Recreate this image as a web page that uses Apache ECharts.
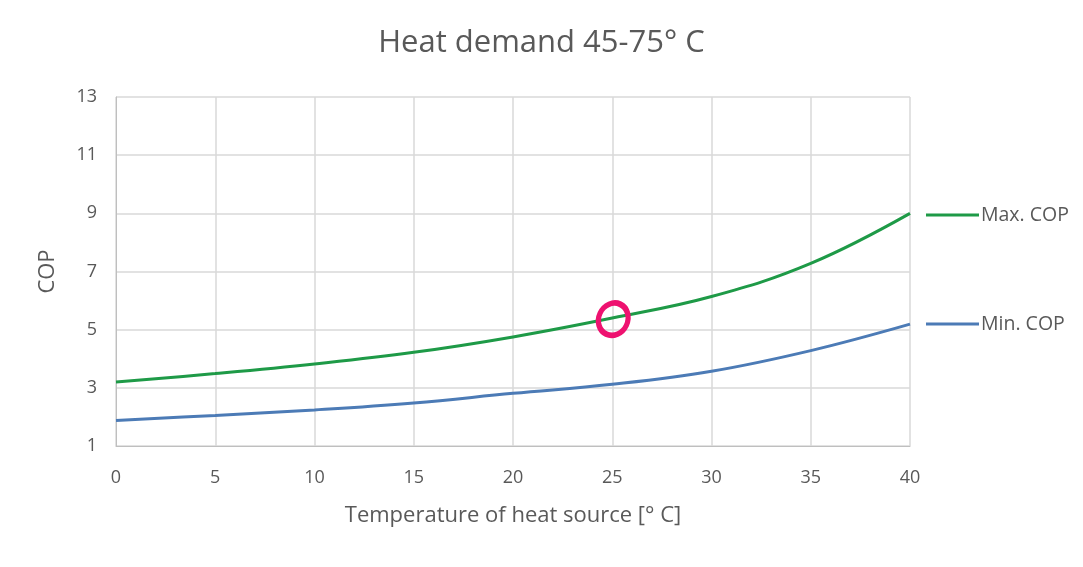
<!DOCTYPE html>
<html>
<head>
<meta charset="utf-8">
<script src="https://cdn.jsdelivr.net/npm/echarts@6/dist/echarts.min.js"></script>
<style>
  html, body { margin: 0; padding: 0; background: #fff; }
  #chart { width: 1083px; height: 567px; }
</style>
</head>
<body>
<div id="chart"></div>
<script>
// source temperature [°C]
const temps = [0, 5, 10, 15, 20, 25, 30, 35, 40]
// COP
const maxCop = [3.20, 3.49, 3.82, 4.22, 4.75, 5.40, 6.14, 7.28, 9.00]
const minCop = [1.88, 2.05, 2.24, 2.48, 2.81, 3.12, 3.57, 4.28, 5.19]
// the pink hand-drawn mark sits on the max curve at 25 °C
const circled = [25.05, 5.36]

const txt = '#595959'
const font = 'Open Sans'

const myChart = echarts.init(document.getElementById('chart'))
const pairs = (ys) => temps.map((t, i) => [t, ys[i]])

const legendBox = (name, top) => ({
  data: [name],
  left: 921,
  top: top,
  icon: 'rect',
  itemWidth: 53,
  itemHeight: 3,
  itemGap: 4,
  textStyle: { color: txt, fontFamily: font, fontSize: 19.5, padding: [0, 0, 0, -3] }
})

const option = {
  animation: false,
  title: {
    text: 'Heat demand 45-75° C',
    left: 'center',
    top: 23,
    textStyle: { color: txt, fontFamily: font, fontWeight: 'normal', fontSize: 31 }
  },
  legend: [legendBox('Max. COP', 200), legendBox('Min. COP', 309)],
  grid: { left: 116, right: 173, top: 97, bottom: 121 },
  xAxis: {
    type: 'value',
    min: 0,
    max: 40,
    interval: 5,
    name: 'Temperature of heat source [° C]',
    nameLocation: 'middle',
    nameGap: 59,
    nameTextStyle: { color: txt, fontFamily: font, fontSize: 22 },
    axisLine: { lineStyle: { color: '#bfbfbf', width: 1 } },
    axisTick: { show: false },
    axisLabel: { color: txt, fontFamily: font, fontSize: 18, margin: 23 },
    splitLine: { show: true, lineStyle: { color: '#d9d9d9', width: 1.5 } }
  },
  yAxis: {
    type: 'value',
    min: 1,
    max: 13,
    interval: 2,
    name: 'COP',
    nameLocation: 'middle',
    nameGap: 57,
    nameTextStyle: { color: txt, fontFamily: font, fontSize: 22 },
    axisLine: { show: true, lineStyle: { color: '#bfbfbf', width: 1 } },
    axisTick: { show: false },
    axisLabel: { color: txt, fontFamily: font, fontSize: 18, margin: 19 },
    splitLine: { show: true, lineStyle: { color: '#d9d9d9', width: 1.5 } }
  },
  series: [
    {
      name: 'Max. COP',
      type: 'line',
      data: pairs(maxCop),
      smooth: 0.4,
      showSymbol: false,
      color: '#1e9a47',
      lineStyle: { width: 3 },
      markPoint: {
        silent: true,
        symbol: 'circle',
        symbolSize: [29, 33],
        symbolRotate: -25,
        itemStyle: { color: 'rgba(0,0,0,0)', borderColor: '#ee1270', borderWidth: 5.5 },
        label: { show: false },
        data: [{ coord: circled }]
      }
    },
    {
      name: 'Min. COP',
      type: 'line',
      data: pairs(minCop),
      smooth: 0.4,
      showSymbol: false,
      color: '#4c7bb6',
      lineStyle: { width: 3 }
    }
  ]
}
myChart.setOption(option)
</script>
</body>
</html>
